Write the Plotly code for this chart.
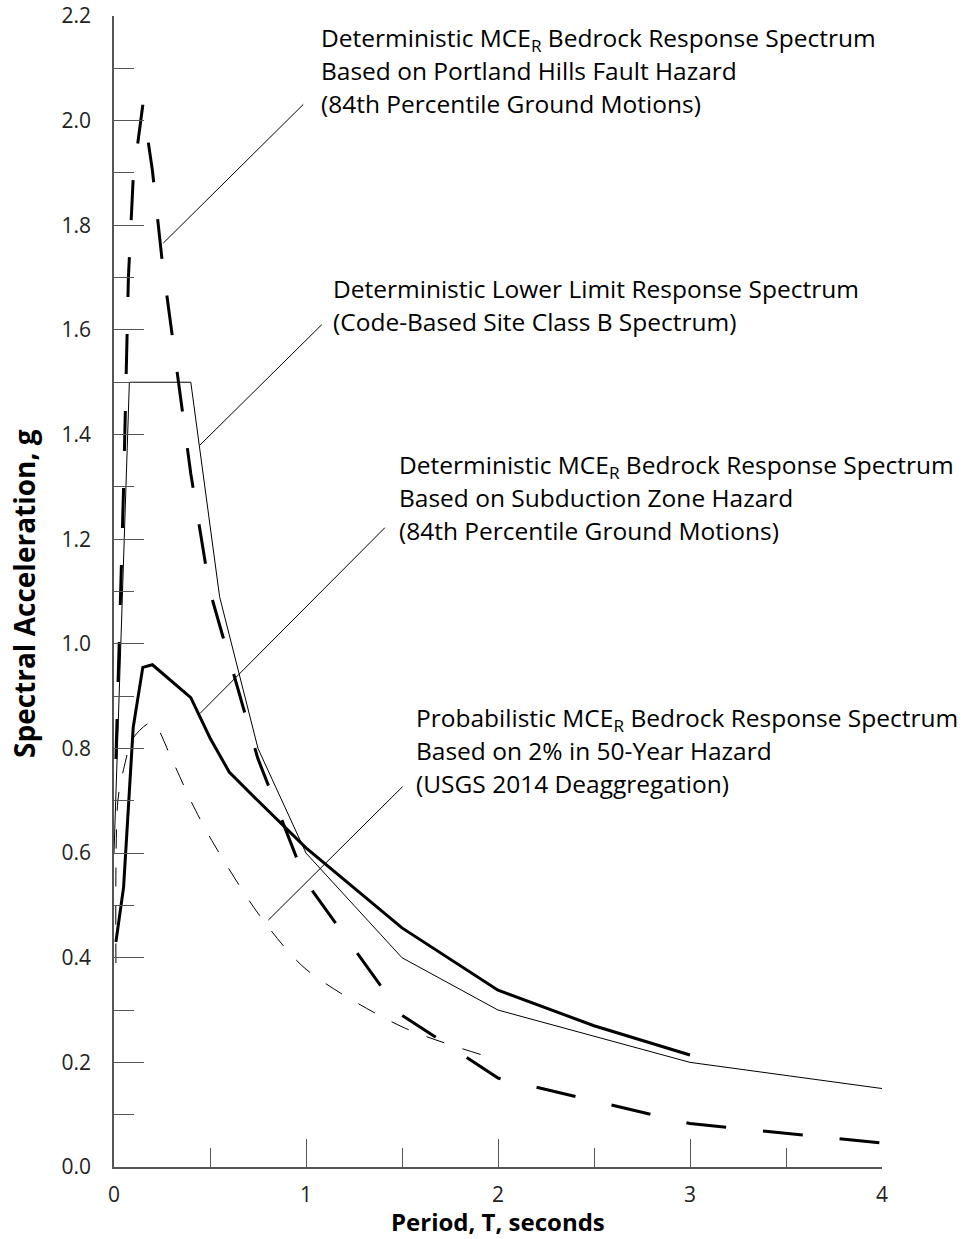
import plotly.graph_objects as go

# ---- data ----
period_portland = [0.01, 0.02, 0.03, 0.05, 0.075, 0.1, 0.15, 0.2, 0.25, 0.3, 0.4, 0.5, 0.75, 1.0, 1.5, 2.0, 3.0, 4.0]
sa_portland = [0.78, 0.90, 1.02, 1.30, 1.70, 1.89, 2.03, 1.905, 1.735, 1.60, 1.325, 1.10, 0.78, 0.545, 0.29, 0.17, 0.083, 0.046]

period_subduction = [0.01, 0.05, 0.1, 0.15, 0.2, 0.4, 0.5, 0.6, 0.75, 1.0, 1.5, 2.0, 2.5, 3.0]
sa_subduction = [0.43, 0.535, 0.84, 0.955, 0.96, 0.897, 0.82, 0.755, 0.70, 0.61, 0.457, 0.338, 0.27, 0.214]

period_code = [0.0, 0.08, 0.4, 0.55, 0.75, 1.0, 1.5, 2.0, 3.0, 4.0]
sa_code = [0.6, 1.5, 1.5, 1.09, 0.80, 0.60, 0.40, 0.30, 0.20, 0.15]

period_prob = [0.01, 0.02, 0.05, 0.1, 0.2, 0.3, 0.4, 0.5, 0.75, 1.0, 1.5, 2.0]
sa_prob = [0.39, 0.70, 0.76, 0.82, 0.85, 0.78, 0.70, 0.63, 0.485, 0.378, 0.268, 0.205]

y_ticks = [0.0, 0.2, 0.4, 0.6, 0.8, 1.0, 1.2, 1.4, 1.6, 1.8, 2.0, 2.2]
y_tick_labels = ["0.0", "0.2", "0.4", "0.6", "0.8", "1.0", "1.2", "1.4", "1.6", "1.8", "2.0", "2.2"]
x_ticks = [0, 1, 2, 3, 4]
x_tick_labels = ["0", "1", "2", "3", "4"]

label_portland = ["Deterministic MCE<sub>R</sub> Bedrock Response Spectrum",
                  "Based on Portland Hills Fault Hazard",
                  "(84th Percentile Ground Motions)"]
label_code = ["Deterministic Lower Limit Response Spectrum",
              "(Code-Based Site Class B Spectrum)"]
label_subduction = ["Deterministic MCE<sub>R</sub> Bedrock Response Spectrum",
                    "Based on Subduction Zone Hazard",
                    "(84th Percentile Ground Motions)"]
label_prob = ["Probabilistic MCE<sub>R</sub> Bedrock Response Spectrum",
              "Based on 2% in 50-Year Hazard",
              "(USGS 2014 Deaggregation)"]

FONT = "Open Sans"

# target plot box in screen pixels
PX_L, PX_R, PX_T, PX_B = 114, 882, 16, 1167
W, H = 963, 1239

fig = go.Figure()
fig.add_trace(go.Scatter(x=period_prob, y=sa_prob, mode="lines",
                         line=dict(color="black", width=1, dash="19px,19px", shape="spline", smoothing=0.8),
                         showlegend=False, hoverinfo="skip"))
fig.add_trace(go.Scatter(x=period_code, y=sa_code, mode="lines",
                         line=dict(color="black", width=1),
                         showlegend=False, hoverinfo="skip"))
fig.add_trace(go.Scatter(x=period_subduction, y=sa_subduction, mode="lines",
                         line=dict(color="black", width=3),
                         showlegend=False, hoverinfo="skip"))
fig.add_trace(go.Scatter(x=period_portland, y=sa_portland, mode="lines",
                         line=dict(color="black", width=3, dash="40px,37px"),
                         showlegend=False, hoverinfo="skip"))

# leader lines
leaders = [
    (0.986, 2.031, 0.257, 1.766),
    (1.082, 1.610, 0.448, 1.380),
    (1.411, 1.222, 0.448, 0.867),
    (1.503, 0.727, 0.804, 0.472),
]
for x0, y0, x1, y1 in leaders:
    fig.add_shape(type="line", x0=x0, y0=y0, x1=x1, y1=y1, xref="x", yref="y",
                  line=dict(color="black", width=1))

def px_to_paper(xp, yp):
    return (xp - PX_L) / (PX_R - PX_L), (PX_B - yp) / (PX_B - PX_T)

def add_block(lines, x_px, y_px_list, size=24.5):
    for txt, yp in zip(lines, y_px_list):
        px, py = px_to_paper(x_px, yp)
        fig.add_annotation(text=txt, xref="paper", yref="paper", x=px, y=py,
                           xanchor="left", yanchor="middle", showarrow=False,
                           font=dict(family=FONT, size=size, color="black"))

add_block(label_portland, 319, [39, 71, 104])
add_block(label_code, 331, [289, 322])
add_block(label_subduction, 397, [466, 497, 530])
add_block(label_prob, 414, [719, 750, 783])

# axis titles
tx, ty = px_to_paper(498, 1221)
fig.add_annotation(text="<b>Period, T, seconds</b>", xref="paper", yref="paper", x=tx, y=ty,
                   xanchor="center", yanchor="middle", showarrow=False,
                   font=dict(family=FONT, size=24, color="black"))
tx, ty = px_to_paper(24, 594)
fig.add_annotation(text="<b>Spectral Acceleration, g</b>", xref="paper", yref="paper", x=tx, y=ty,
                   xanchor="center", yanchor="middle", showarrow=False, textangle=-90,
                   font=dict(family=FONT, size=28, color="black"))

axis_color = "#555555"
fig.update_layout(
    width=W, height=H,
    margin=dict(l=PX_L, r=W - PX_R, t=PX_T, b=H - PX_B, autoexpand=False),
    paper_bgcolor="white", plot_bgcolor="white",
    font=dict(family=FONT, color="black"),
    xaxis=dict(range=[0, 4], tickvals=x_ticks, ticktext=x_tick_labels,
               ticks="inside", ticklen=28, tickwidth=1, tickcolor=axis_color,
               minor=dict(dtick=0.5, ticks="inside", ticklen=19, tickcolor=axis_color, tickwidth=1),
               showline=True, linecolor=axis_color, linewidth=1.5, showgrid=False, zeroline=False,
               tickfont=dict(family=FONT, size=21, color="#222222"), ticklabelstandoff=8,
               ticklabeloverflow="allow", automargin=False),
    yaxis=dict(range=[0, 2.2], tickvals=y_ticks, ticktext=y_tick_labels,
               ticks="inside", ticklen=30, tickwidth=1, tickcolor=axis_color,
               minor=dict(dtick=0.1, ticks="inside", ticklen=20, tickcolor=axis_color, tickwidth=1),
               showline=True, linecolor=axis_color, linewidth=1.5, showgrid=False, zeroline=False,
               tickfont=dict(family=FONT, size=21, color="#222222"), ticklabelstandoff=17,
               ticklabeloverflow="allow", automargin=False),
)

fig.write_html("out.html", config={"displayModeBar": False},
               post_script="document.body.style.margin='0';document.body.style.overflow='hidden';")
